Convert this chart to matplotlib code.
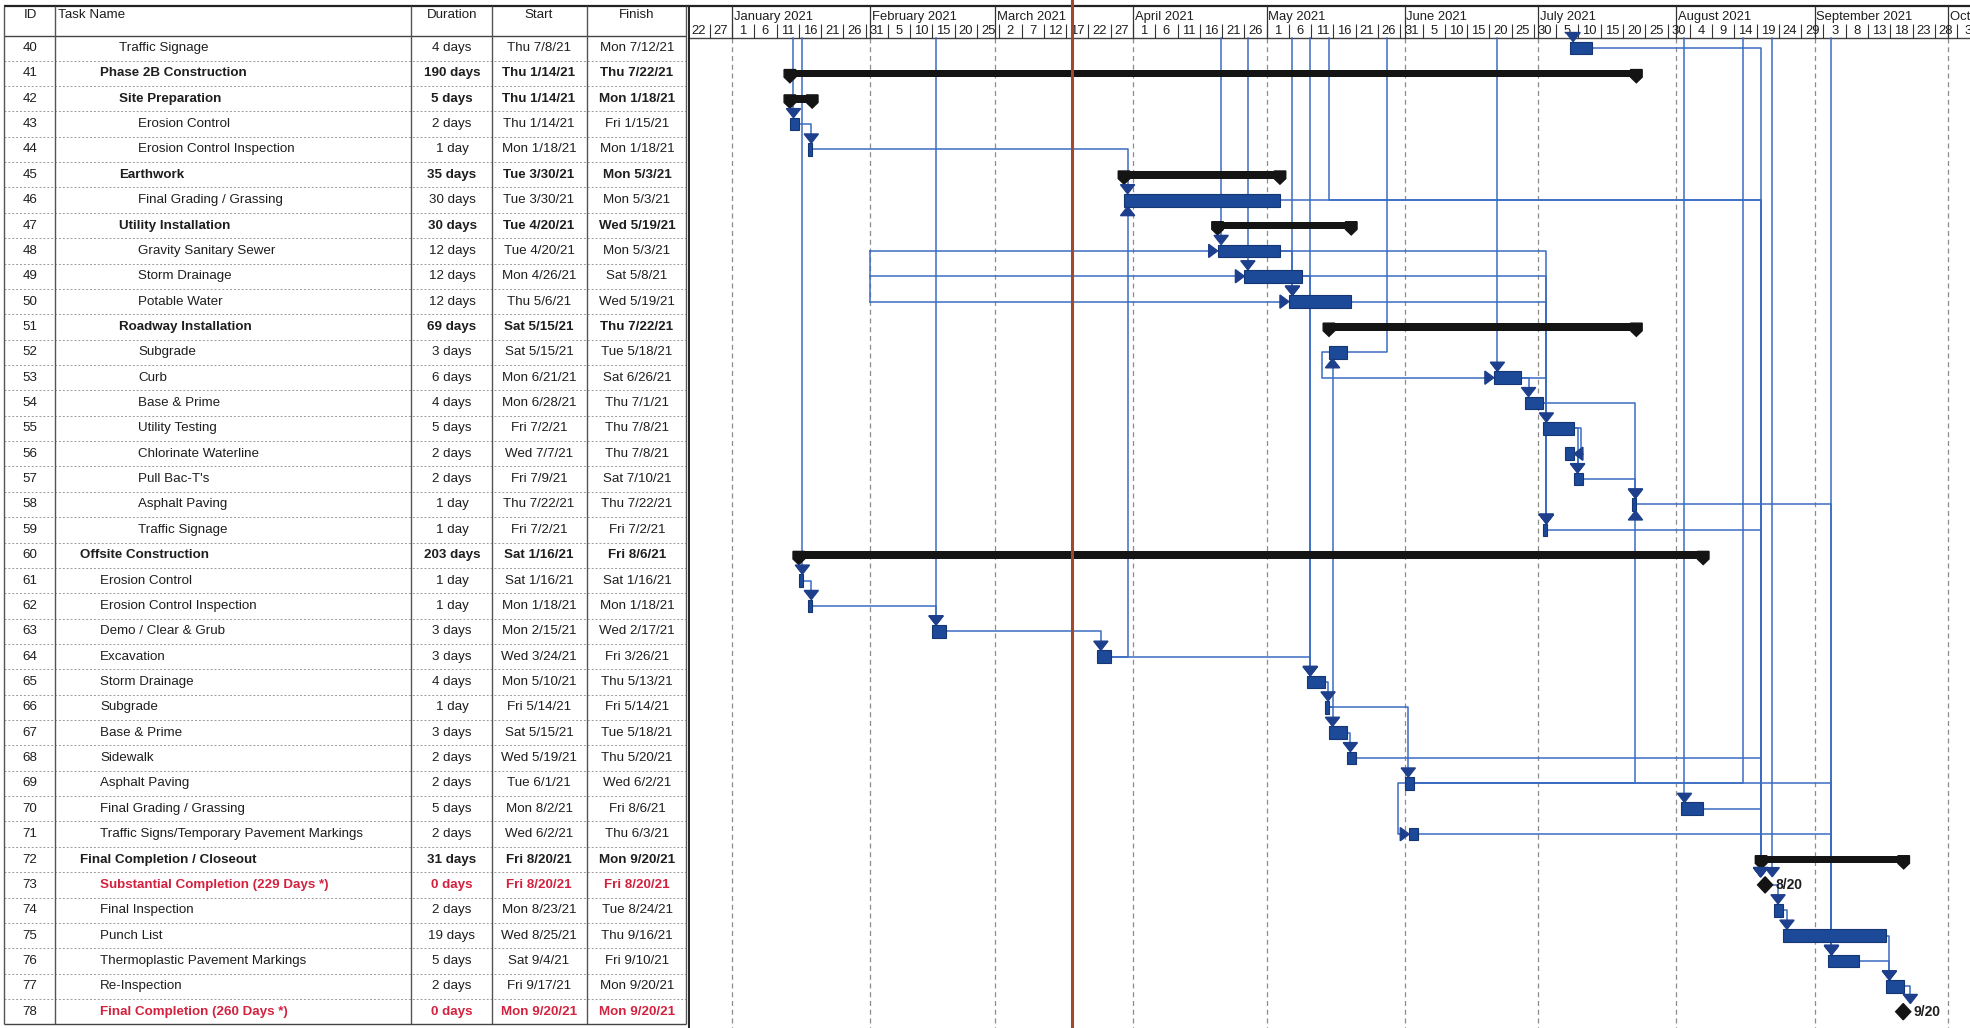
import matplotlib
matplotlib.use("Agg")
import matplotlib.pyplot as plt
import matplotlib.dates as mdates
from matplotlib.patches import Polygon
from datetime import datetime, timedelta

plt.rcParams['font.family'] = ['Liberation Sans', 'DejaVu Sans']

# ---------------- data read from the schedule ----------------
task_ids = list(range(40, 79))
task_names = [
    "Traffic Signage", "Phase 2B Construction", "Site Preparation", "Erosion Control",
    "Erosion Control Inspection", "Earthwork", "Final Grading / Grassing", "Utility Installation",
    "Gravity Sanitary Sewer", "Storm Drainage", "Potable Water", "Roadway Installation",
    "Subgrade", "Curb", "Base & Prime", "Utility Testing", "Chlorinate Waterline", "Pull Bac-T's",
    "Asphalt Paving", "Traffic Signage", "Offsite Construction", "Erosion Control",
    "Erosion Control Inspection", "Demo / Clear & Grub", "Excavation", "Storm Drainage",
    "Subgrade", "Base & Prime", "Sidewalk", "Asphalt Paving", "Final Grading / Grassing",
    "Traffic Signs/Temporary Pavement Markings", "Final Completion / Closeout",
    "Substantial Completion (229 Days *)", "Final Inspection", "Punch List",
    "Thermoplastic Pavement Markings", "Re-Inspection", "Final Completion (260 Days *)",
]
durations = [
    "4 days", "190 days", "5 days", "2 days", "1 day", "35 days", "30 days", "30 days",
    "12 days", "12 days", "12 days", "69 days", "3 days", "6 days", "4 days", "5 days",
    "2 days", "2 days", "1 day", "1 day", "203 days", "1 day", "1 day", "3 days", "3 days",
    "4 days", "1 day", "3 days", "2 days", "2 days", "5 days", "2 days", "31 days", "0 days",
    "2 days", "19 days", "5 days", "2 days", "0 days",
]
start_txt = [
    "Thu 7/8/21", "Thu 1/14/21", "Thu 1/14/21", "Thu 1/14/21", "Mon 1/18/21", "Tue 3/30/21",
    "Tue 3/30/21", "Tue 4/20/21", "Tue 4/20/21", "Mon 4/26/21", "Thu 5/6/21", "Sat 5/15/21",
    "Sat 5/15/21", "Mon 6/21/21", "Mon 6/28/21", "Fri 7/2/21", "Wed 7/7/21", "Fri 7/9/21",
    "Thu 7/22/21", "Fri 7/2/21", "Sat 1/16/21", "Sat 1/16/21", "Mon 1/18/21", "Mon 2/15/21",
    "Wed 3/24/21", "Mon 5/10/21", "Fri 5/14/21", "Sat 5/15/21", "Wed 5/19/21", "Tue 6/1/21",
    "Mon 8/2/21", "Wed 6/2/21", "Fri 8/20/21", "Fri 8/20/21", "Mon 8/23/21", "Wed 8/25/21",
    "Sat 9/4/21", "Fri 9/17/21", "Mon 9/20/21",
]
finish_txt = [
    "Mon 7/12/21", "Thu 7/22/21", "Mon 1/18/21", "Fri 1/15/21", "Mon 1/18/21", "Mon 5/3/21",
    "Mon 5/3/21", "Wed 5/19/21", "Mon 5/3/21", "Sat 5/8/21", "Wed 5/19/21", "Thu 7/22/21",
    "Tue 5/18/21", "Sat 6/26/21", "Thu 7/1/21", "Thu 7/8/21", "Thu 7/8/21", "Sat 7/10/21",
    "Thu 7/22/21", "Fri 7/2/21", "Fri 8/6/21", "Sat 1/16/21", "Mon 1/18/21", "Wed 2/17/21",
    "Fri 3/26/21", "Thu 5/13/21", "Fri 5/14/21", "Tue 5/18/21", "Thu 5/20/21", "Wed 6/2/21",
    "Fri 8/6/21", "Thu 6/3/21", "Mon 9/20/21", "Fri 8/20/21", "Tue 8/24/21", "Thu 9/16/21",
    "Fri 9/10/21", "Mon 9/20/21", "Mon 9/20/21",
]
outline_level = [2, 1, 2, 3, 3, 2, 3, 2, 3, 3, 3, 2, 3, 3, 3, 3, 3, 3, 3, 3,
                 0, 1, 1, 1, 1, 1, 1, 1, 1, 1, 1, 1, 0, 1, 1, 1, 1, 1, 1]
summary_ids = [41, 42, 45, 47, 51, 60, 72]
milestone_ids = [73, 78]

# dependency links
fs_links = [(43, 44), (44, 46), (64, 46), (48, 50), (48, 59), (49, 59), (50, 59), (53, 59),
            (53, 54), (54, 55), (54, 58), (55, 57), (56, 57), (57, 58), (40, 73), (46, 73),
            (59, 73), (68, 73), (70, 73), (58, 76), (69, 76), (71, 76), (61, 62), (62, 63),
            (63, 64), (64, 65), (49, 65), (65, 66), (66, 67), (66, 52), (66, 69), (67, 68),
            (69, 58), (73, 74), (74, 75), (75, 77), (76, 77), (77, 78)]
ss_links = [(52, 53), (69, 71)]
ff_links = [(55, 56)]
# links coming from tasks on the previous page (date of the vertical, successor)
ext_in = [("2021-01-14", 43), ("2021-01-16", 61), ("2021-02-15", 63), ("2021-04-20", 48),
          ("2021-04-26", 49), ("2021-05-06", 50), ("2021-05-10", 65), ("2021-06-21", 53),
          ("2021-07-08", 40), ("2021-08-02", 70), ("2021-08-22", 73), ("2021-09-04", 76)]
ext_via = [("2021-05-15", 46, 73)]
ext_out = [(52, "2021-05-28"), (69, "2021-08-16")]
bracket = ("2021-02-01", [48, 49, 50])
seam_date = "2021-03-18 07:00"

month_labels = ["January 2021", "February 2021", "March 2021", "April 2021", "May 2021",
                "June 2021", "July 2021", "August 2021", "September 2021", "October 2021"]

# ---------------- layout ----------------
W, H = 1970, 1028
SPLIT = 688
ROW0, PITCH = 48.0, 25.36
PX_PER_DAY = 4.455


def ry(px):
    return (px - ROW0) / PITCH


def parse(s):
    m, d, y = s.split()[1].split('/')
    return datetime(2000 + int(y), int(m), int(d))


def dn(s):
    return mdates.date2num(datetime.fromisoformat(s))


row = {t: i for i, t in enumerate(task_ids)}
start = {t: mdates.date2num(parse(s)) for t, s in zip(task_ids, start_txt)}
end = {t: mdates.date2num(parse(s) + timedelta(days=1)) for t, s in zip(task_ids, finish_txt)}

TXT = '#1e1e1e'
RED = '#d2223f'
BAR = '#1c4a99'
BAR_EDGE = '#143672'
LINK = '#3a6cc2'
ARROW = '#1d3f8c'
GRID = '#8c8c8c'

fig = plt.figure(figsize=(W / 100, H / 100), dpi=100)
axt = fig.add_axes([0, 0, SPLIT / W, 1])
axg = fig.add_axes([SPLIT / W, 0, 1 - SPLIT / W, 1])
for ax in (axt, axg):
    ax.set_ylim(ry(H), ry(0))
    ax.axis('off')
axt.set_xlim(0, SPLIT)
jan1 = mdates.date2num(datetime(2021, 1, 1))
gx0 = jan1 - (732 - SPLIT) / PX_PER_DAY
axg.set_xlim(gx0, gx0 + (W - SPLIT) / PX_PER_DAY)

# ---------------- table ----------------
FS = 9.6
indent = {0: 80, 1: 100, 2: 119, 3: 138}
col_lines = [4, 55, 411, 492, 587, 686]
last = len(task_ids) - 1
axt.hlines(ry(6), 4, SPLIT, color='#222', lw=1.6)
axt.hlines(ry(35.5), 4, 686, color='#444', lw=1.0)
axt.hlines([i + 0.5 for i in range(last)], 4, 686, color='#9a9a9a', lw=0.7,
           linestyles=(0, (2, 2)))
axt.hlines(last + 0.5, 4, 686, color='#444', lw=1.0)
axt.vlines(col_lines, ry(6), last + 0.5, color='#555', lw=1.0)

hy = ry(15)
axt.text(30, hy, "ID", ha='center', va='center', fontsize=9.6, color=TXT)
axt.text(58, hy, "Task Name", ha='left', va='center', fontsize=9.6, color=TXT)
axt.text(452, hy, "Duration", ha='center', va='center', fontsize=9.6, color=TXT)
axt.text(539, hy, "Start", ha='center', va='center', fontsize=9.6, color=TXT)
axt.text(637, hy, "Finish", ha='center', va='center', fontsize=9.6, color=TXT)

for i, t in enumerate(task_ids):
    bold = t in summary_ids or t in milestone_ids
    col = RED if t in milestone_ids else TXT
    fw = 'bold' if bold else 'normal'
    axt.text(30, i, str(t), ha='center', va='center', fontsize=FS, color=TXT)
    axt.text(indent[outline_level[i]], i, task_names[i], ha='left', va='center',
             fontsize=FS, color=col, fontweight=fw)
    axt.text(452, i, durations[i], ha='center', va='center', fontsize=FS, color=col, fontweight=fw)
    axt.text(539, i, start_txt[i], ha='center', va='center', fontsize=FS, color=col, fontweight=fw)
    axt.text(637, i, finish_txt[i], ha='center', va='center', fontsize=FS, color=col, fontweight=fw)

# ---------------- gantt header ----------------
month_starts = [mdates.date2num(datetime(2021, m, 1)) for m in range(1, 11)]
tick = datetime(2020, 12, 22)
ticks = []
while tick < datetime(2021, 10, 12):
    ticks.append(tick)
    tick += timedelta(days=5)
HB = ry(37.5)
axg.axhline(ry(6), color='#222', lw=1.6)
axg.axhline(HB, color='#444', lw=1.0)
axg.vlines(axg.get_xlim()[0] + 0.2, ry(6), ry(H), color='#222', lw=1.4)
axg.vlines(month_starts, ry(6), HB, color='#333', lw=0.9)
axg.vlines([mdates.date2num(t) for t in ticks], ry(24), HB, color='#333', lw=0.8)
for ms, lab in zip(month_starts, month_labels):
    axg.text(ms + 0.4, ry(17), lab, ha='left', va='center', fontsize=9.4, color=TXT,
             clip_on=True)
for t in ticks:
    axg.text(mdates.date2num(t) + 2.5, ry(31), str(t.day), ha='center', va='center',
             fontsize=9.4, color=TXT, clip_on=True)

# month grid in the body
axg.vlines(month_starts, HB, ry(H), color=GRID, lw=0.9, linestyles=(0, (4, 3)), zorder=1)

# ---------------- links ----------------
BH, SH, CAP, CW = 0.5, 0.3, 0.22, 1.3
MW, MH = 1.7, 0.32
AW, AL = 1.6, 0.36
HL, HW = 2.0, 0.26
OFF = 0.8


def seg(xs, ys):
    axg.plot(xs, ys, color=LINK, lw=1.1, zorder=3, solid_joinstyle='round')


def arrow(x, y, d):
    if d == 'down':
        pts = [(x - AW, y - AL), (x + AW, y - AL), (x, y)]
    elif d == 'up':
        pts = [(x - AW, y + AL), (x + AW, y + AL), (x, y)]
    elif d == 'right':
        pts = [(x - HL, y - HW), (x - HL, y + HW), (x, y)]
    else:
        pts = [(x + HL, y - HW), (x + HL, y + HW), (x, y)]
    axg.add_patch(Polygon(pts, closed=True, color=ARROW, zorder=6))


def half(t):
    return MH if t in milestone_ids else BH / 2


def exit_x(t):
    return end[t] - 0.1 + MW if t in milestone_ids else end[t]


def mid_x(t):
    return end[t] - 0.1


for p, s in fs_links:
    xa, ya = exit_x(p), row[p]
    if s in milestone_ids:
        xb = max(mid_x(s) - 1.0, xa + 1.5)
    else:
        xb = max(start[s] + OFF, xa + 0.8)
    if row[s] > row[p]:
        yb = row[s] - half(s)
        seg([xa, xb, xb], [ya, ya, yb - AL])
        arrow(xb, yb, 'down')
    else:
        yb = row[s] + half(s)
        seg([xa, xb, xb], [ya, ya, yb + AL])
        arrow(xb, yb, 'up')

for p, s in ss_links:
    xl = start[p] - 1.5
    seg([start[p], xl, xl, start[s] - HL], [row[p], row[p], row[s], row[s]])
    arrow(start[s], row[s], 'right')

for p, s in ff_links:
    xr = max(end[p], end[s]) + 1.5
    seg([end[p], xr, xr, end[s] + HL], [row[p], row[p], row[s], row[s]])
    arrow(end[s], row[s], 'left')

bx = dn(bracket[0])
seg([bx, bx], [row[bracket[1][0]], row[bracket[1][-1]]])
for t in bracket[1]:
    seg([bx, start[t] - HL], [row[t], row[t]])
    arrow(start[t], row[t], 'right')

for d, s in ext_in:
    x = dn(d) + (OFF if s not in milestone_ids else 0.5)
    yb = row[s] - half(s)
    seg([x, x], [HB, yb - AL])
    arrow(x, yb, 'down')

for d, r, s in ext_via:
    x = dn(d)
    xb = mid_x(s) - 1.0
    seg([x, x, xb, xb], [HB, row[r], row[r], row[s] - half(s) - AL])

for p, d in ext_out:
    x = dn(d)
    seg([end[p], x, x], [row[p], row[p], HB])

# ---------------- bars ----------------
tasks = [t for t in task_ids if t not in summary_ids and t not in milestone_ids]
axg.barh([row[t] for t in tasks], [end[t] - start[t] for t in tasks],
         left=[start[t] for t in tasks], height=BH, color=BAR, edgecolor=BAR_EDGE,
         lw=0.8, zorder=5)

axg.barh([row[t] for t in summary_ids], [end[t] - start[t] for t in summary_ids],
         left=[start[t] for t in summary_ids], height=SH, color='#141414', zorder=5)
for t in summary_ids:
    yt, yb = row[t] - SH / 2, row[t] + SH / 2
    for xc in (start[t], end[t]):
        cap = [(xc - CW, yt), (xc + CW, yt), (xc + CW, yb), (xc, yb + CAP), (xc - CW, yb)]
        axg.add_patch(Polygon(cap, closed=True, color='#141414', zorder=5))

for t in milestone_ids:
    xm, y = mid_x(t), row[t]
    axg.add_patch(Polygon([(xm - MW, y), (xm, y - MH), (xm + MW, y), (xm, y + MH)],
                          closed=True, color='#141414', zorder=7))
    f = parse(finish_txt[row[t]])
    axg.text(xm + 2.4, y, f"{f.month}/{f.day}", ha='left', va='center', fontsize=10,
             fontweight='bold', color=TXT, zorder=7)

# page seam of the scanned print
axg.axvline(dn(seam_date), color='#a3472d', lw=2.2, zorder=8)

fig.savefig("out.png", dpi=100)
